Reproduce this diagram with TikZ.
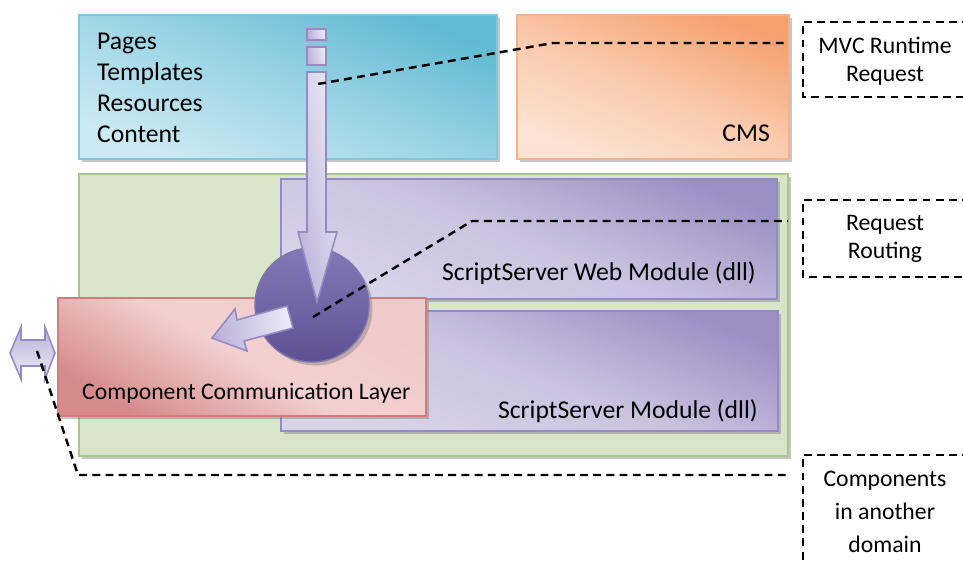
\documentclass[tikz,border=0pt]{standalone}
\usepackage{fontspec}
\setmainfont{Carlito}
\usetikzlibrary{arrows.meta,positioning,shadows,calc}
\definecolor{skydark}{RGB}{96,186,211}
\definecolor{skylight}{RGB}{204,234,243}
\definecolor{skyedge}{RGB}{128,198,220}
\definecolor{peachdark}{RGB}{246,160,110}
\definecolor{peachlight}{RGB}{252,228,212}
\definecolor{peachedge}{RGB}{244,178,138}
\definecolor{sagefill}{RGB}{217,229,202}
\definecolor{sageedge}{RGB}{170,198,142}
\definecolor{lilacdark}{RGB}{155,144,196}
\definecolor{lilaclight}{RGB}{216,212,233}
\definecolor{lilacedge}{RGB}{150,138,196}
\definecolor{rosedark}{RGB}{214,138,138}
\definecolor{roselight}{RGB}{243,208,208}
\definecolor{roseedge}{RGB}{210,124,124}
\definecolor{hubdark}{RGB}{92,80,146}
\definecolor{hublight}{RGB}{132,122,184}
\definecolor{arrowlight}{RGB}{236,234,246}
\definecolor{arrowdark}{RGB}{186,178,218}

\begin{document}
\begin{tikzpicture}[x=0.2mm,y=-0.2mm,font=\fontsize{14.6}{17.6}\selectfont]
\tikzstyle{panel}=[draw,line width=1pt,anchor=north west,inner sep=0pt,drop shadow={shadow xshift=2pt,shadow yshift=-2pt,opacity=0.45}]
\tikzstyle{pipe}=[draw=lilacedge,line width=0.9pt,left color=arrowdark,right color=arrowlight,shading angle=100]
\tikzstyle{leader}=[line width=1.4pt,dash pattern=on 4.5pt off 3pt]
\tikzstyle{note}=[align=center,inner sep=0pt]
\useasboundingbox (0,0) rectangle (963,563);

% layers
\node[panel,draw=sageedge,fill=sagefill,minimum width=14.18cm,minimum height=5.64cm] (hostbox) at (78,173) {};
\node[panel,draw=skyedge,top color=skydark,bottom color=skylight,middle color=skydark!45!skylight,shading angle=-22,minimum width=8.36cm,minimum height=2.88cm] (pagebox) at (78,14) {};
\node[panel,draw=peachedge,top color=peachdark,bottom color=peachlight,middle color=peachdark!40!peachlight,shading angle=-22,minimum width=5.44cm,minimum height=2.88cm] (cmsbox) at (516,14) {};
\node[panel,draw=lilacedge,top color=lilacdark,bottom color=lilaclight,middle color=lilacdark!25!lilaclight,shading angle=-22,minimum width=9.92cm,minimum height=2.40cm] (webmod) at (280,178) {};
\node[panel,draw=lilacedge,top color=lilacdark,bottom color=lilaclight,middle color=lilacdark!25!lilaclight,shading angle=-22,minimum width=9.94cm,minimum height=2.40cm] (srvmod) at (280,310) {};
\node[panel,draw=roseedge,top color=roselight!90!rosedark,bottom color=rosedark,middle color=roselight,shading angle=-30,minimum width=7.36cm,minimum height=2.36cm] (commlayer) at (57,297) {};
\node[circle,draw=hubdark!80,line width=0.8pt,top color=hublight,bottom color=hubdark,minimum size=2.28cm,drop shadow={shadow xshift=2pt,shadow yshift=-2pt,opacity=0.45}] (router) at (312,305) {};

% labels
\node[align=left,anchor=west] (pagelist) at (91,88) {Pages\\Templates\\Resources\\Content};
\node[anchor=east] (cmslbl) at (776,133) {CMS};
\node[anchor=east] (weblbl) at (762,273) {ScriptServer Web Module (dll)};
\node[anchor=east] (srvlbl) at (764,411) {ScriptServer Module (dll)};
\node[anchor=west,font=\fontsize{13.5}{16}\selectfont] (commlbl) at (76,393) {Component Communication Layer};

% request arrow
\draw[pipe] (307,29) rectangle (326,40);
\draw[pipe] (307,47) rectangle (326,65);
\draw[pipe] (307,72) -- (326,72) -- (326,232) -- (337,232) -- (317,302) -- (298,232) -- (307,232) -- cycle;
\draw[pipe] (287,306) -- (293,328) -- (244,341) -- (247,351) -- (212,338) -- (235,309) -- (237,320) -- cycle;
\draw[pipe,shading angle=0] (10,353) -- (21,327) -- (21,340) -- (45,340) -- (45,327) -- (55,353) -- (45,379) -- (45,366) -- (21,366) -- (21,379) -- cycle;

% callouts
\coordinate (mvcfeed) at (318,84);
\coordinate (mvcbend) at (553,43);
\coordinate (mvctail) at (787,43);
\coordinate (routefeed) at (313,317);
\coordinate (routebend) at (472,221);
\coordinate (routetail) at (788,221);
\coordinate (domainfeed) at (37,351);
\coordinate (domainbend) at (78,475);
\coordinate (domaintail) at (788,475);
\draw[leader] (mvcfeed) -- (mvcbend) -- (mvctail);
\draw[leader] (routefeed) -- (routebend) -- (routetail);
\draw[leader] (domainfeed) -- (domainbend) -- (domaintail);
\draw[leader] (970,22) -| (803,97) -- (970,97);
\draw[leader] (970,200) -| (803,277) -- (970,277);
\draw[leader] (970,455) -| (803,570);
\node[note,font=\fontsize{13.5}{15.9}\selectfont] (mvcnote) at (885,61) {MVC Runtime\\Request};
\node[note,font=\fontsize{13.5}{15.9}\selectfont] (routenote) at (885,239) {Request\\Routing};
\node[note,font=\fontsize{13.5}{18.7}\selectfont] (domainnote) at (885,512) {Components\\in another\\domain};
\end{tikzpicture}
\end{document}
